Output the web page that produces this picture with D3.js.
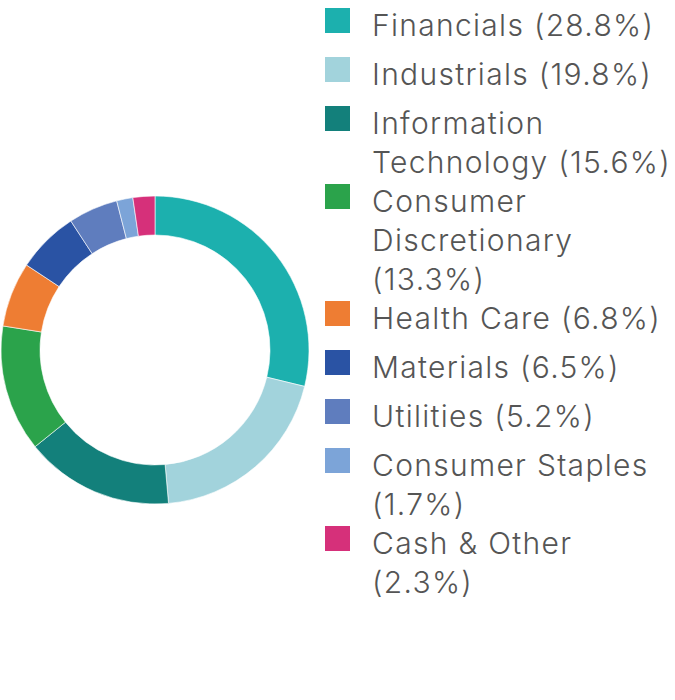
<head>
    <meta charset="utf-8">
    <style> body { margin: 0; background: #fff; } </style>
    <script src="https://d3js.org/d3.v7.min.js"></script>
</head>
<body>
<div id="chart"></div>
<script>

    var sectors = ["Financials", "Industrials", "Information Technology", "Consumer Discretionary",
                   "Health Care", "Materials", "Utilities", "Consumer Staples", "Cash & Other"];
    var weights = [28.8, 19.8, 15.6, 13.3, 6.8, 6.5, 5.2, 1.7, 2.3];
    var colors  = ["#1cb0ae", "#a2d3dc", "#13807b", "#2ba34b", "#ee7d33",
                   "#2a53a4", "#5f7dbe", "#7ca4d8", "#d6307a"];

    var W = 675, H = 700;

    var svg = d3.select("#chart").append("svg")
        .attr("width", W)
        .attr("height", H);

    // donut
    var cx = 155, cy = 350, outerR = 154, innerR = 115;

    var data = sectors.map(function(s, i) { return { name: s, value: weights[i], color: colors[i] }; });

    var pie = d3.pie().sort(null).value(d => d.value);
    var arc = d3.arc().innerRadius(innerR).outerRadius(outerR);

    svg.append("g")
        .attr("transform", "translate(" + cx + "," + cy + ")")
        .selectAll("path")
        .data(pie(data))
        .join("path")
        .attr("d", arc)
        .attr("fill", d => d.data.color)
        .attr("stroke", "#ffffff")
        .attr("stroke-width", 0.6);

    // legend
    var legX = 325, textX = 372, maxW = 300, lineH = 39;
    var font = "Inter, sans-serif", fontSize = 30, spacing = 1.3;
    var legend = svg.append("g").attr("class", "legend");

    var measure = svg.append("text")
        .attr("font-family", font)
        .attr("font-size", fontSize)
        .attr("font-weight", 300)
        .attr("letter-spacing", spacing);

    function wrap(str) {
        var words = str.split(" "), lines = [], cur = "";
        words.forEach(function(w) {
            var test = cur ? cur + " " + w : w;
            measure.text(test);
            if (measure.node().getComputedTextLength() > maxW && cur) {
                lines.push(cur);
                cur = w;
            } else {
                cur = test;
            }
        });
        lines.push(cur);
        return lines;
    }

    var y = 25; // center of first line
    data.forEach(function(d) {
        var lines = wrap(d.name + " (" + d.value + "%)");
        var g = legend.append("g");
        g.append("rect")
            .attr("x", legX)
            .attr("y", y - 4.5 - 12.5)
            .attr("width", 25)
            .attr("height", 25)
            .attr("fill", d.color);
        var t = g.append("text")
            .attr("font-family", font)
            .attr("font-size", fontSize)
            .attr("font-weight", 300)
            .attr("letter-spacing", spacing)
            .attr("fill", "#555555");
        lines.forEach(function(l, i) {
            t.append("tspan")
                .attr("x", textX)
                .attr("y", y + i * lineH)
                .attr("dy", "0.36em")
                .text(l);
        });
        y += lines.length === 1 ? 49 : lines.length * lineH;
    });

    measure.remove();

</script>
</body>
